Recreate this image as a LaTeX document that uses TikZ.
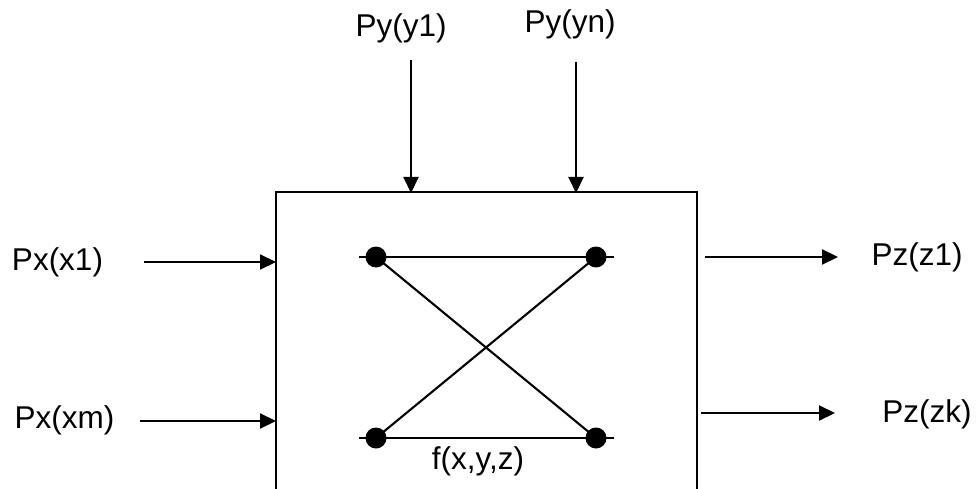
\documentclass[tikz,border=0pt]{standalone}
\usepackage{fontspec}
\setmainfont{Liberation Sans}
\usetikzlibrary{arrows.meta}
\begin{document}
\begin{tikzpicture}[x=1pt,y=-1pt,
  lbl/.style={inner sep=0pt,font=\fontsize{31.5}{37}\selectfont},
  dot/.style={circle,fill=black,inner sep=0pt,minimum size=21pt},
  ln/.style={line width=2.1pt},
  arr/.style={line width=2.1pt,-{Triangle[length=16pt,width=15pt]}}]
\useasboundingbox (0,0) rectangle (976,489);
% box (bottom edge outside picture)
\coordinate (bl) at (276,495);
\coordinate (tl) at (276,192);
\coordinate (tr) at (697,192);
\coordinate (br) at (697,495);
\draw[line width=2.4pt] (bl) -- (tl) -- (tr) -- (br);
% labels
\node[lbl] (px1) at (57.5,262) {Px(x1)};
\node[lbl] (pxm) at (64.5,420) {Px(xm)};
\node[lbl] (pz1) at (917,257) {Pz(z1)};
\node[lbl] (pzk) at (927,414) {Pz(zk)};
\node[lbl] (py1) at (401,28) {Py(y1)};
\node[lbl] (pyn) at (570,24) {Py(yn)};
\node[lbl] (f) at (478,461) {f(x,y,z)};
% arrow end points
\coordinate (a1s) at (144,262); \coordinate (a1e) at (276,262);
\coordinate (a2s) at (140,421); \coordinate (a2e) at (276,421);
\coordinate (b1s) at (705,257); \coordinate (b1e) at (838,257);
\coordinate (b2s) at (701,413); \coordinate (b2e) at (835,413);
\coordinate (c1s) at (411,60);  \coordinate (c1e) at (411,193);
\coordinate (c2s) at (576,62);  \coordinate (c2e) at (576,193);
\draw[arr] (a1s) -- (a1e);
\draw[arr] (a2s) -- (a2e);
\draw[arr] (b1s) -- (b1e);
\draw[arr] (b2s) -- (b2e);
\draw[arr] (c1s) -- (c1e);
\draw[arr] (c2s) -- (c2e);
% inner network
\coordinate (h1s) at (359,257); \coordinate (h1e) at (614,257);
\coordinate (h2s) at (359,438); \coordinate (h2e) at (614,438);
\node[dot] (d1) at (376,257) {};
\node[dot] (d2) at (596,257) {};
\node[dot] (d3) at (376,438) {};
\node[dot] (d4) at (596,438) {};
\draw[ln] (h1s) -- (h1e);
\draw[ln] (h2s) -- (h2e);
\draw[ln] (d1.center) -- (d4.center);
\draw[ln] (d3.center) -- (d2.center);
\end{tikzpicture}
\end{document}
